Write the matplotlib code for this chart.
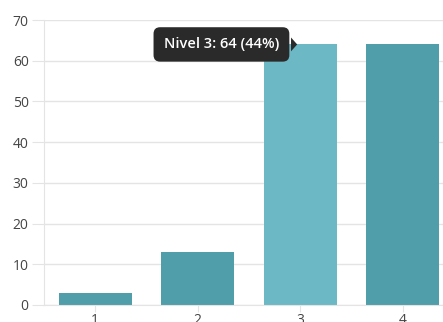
import matplotlib.pyplot as plt
from matplotlib.patches import Polygon

plt.rcParams['font.family'] = ['Open Sans', 'DejaVu Sans']

niveles = ['1', '2', '3', '4']
respuestas = [3, 13, 64, 64]
activo = 2  # bar under the tooltip

base_color = '#509ea9'
hover_color = '#6cb8c4'
grid_color = '#e4e4e4'
text_color = '#444444'

fig = plt.figure(figsize=(4.43, 3.22), dpi=100)
ax = fig.add_axes([44 / 443, 1 - 305 / 322, 1 - 44 / 443, 285 / 322])

x = list(range(len(niveles)))
colors = [hover_color if i == activo else base_color for i in x]
ax.bar(x, respuestas, width=0.71, color=colors, edgecolor='none', zorder=2)

ax.set_xlim(-0.5, (443 - 44) / 102.5 - 0.5)
ax.set_ylim(0, 70)
ax.set_yticks(range(0, 71, 10))
ax.set_xticks(x)
ax.set_xticklabels(niveles)

ax.grid(axis='y', color=grid_color, linewidth=1, zorder=0)
for side in ['top', 'right']:
    ax.spines[side].set_visible(False)
ax.spines['left'].set_color(grid_color)
ax.spines['bottom'].set_color(grid_color)

ax.tick_params(axis='y', length=9, color=grid_color, labelsize=10,
               labelcolor=text_color, pad=2)
ax.tick_params(axis='x', length=5, color=grid_color, labelsize=10,
               labelcolor=text_color, pad=1)

# tooltip for the hovered bar
total = sum(respuestas)
valor = respuestas[activo]
label = f'Nivel {niveles[activo]}: {valor} ({round(100 * valor / total)}%)'
tip_x = activo - 0.03
ax.annotate(label, xy=(tip_x, valor), xytext=(-13, 0), textcoords='offset points',
            ha='right', va='center', color='white', fontsize=10.5,
            fontweight='semibold', zorder=5,
            bbox=dict(boxstyle='round,pad=0.7,rounding_size=0.45',
                      fc='#2a2a2a', ec='none'))
tri = Polygon([(tip_x - 0.06, valor + 1.7), (tip_x - 0.06, valor - 1.7),
               (tip_x, valor)], closed=True, fc='#2a2a2a', ec='none',
              zorder=5, clip_on=False)
ax.add_patch(tri)

fig.savefig('out.png', dpi=100)
